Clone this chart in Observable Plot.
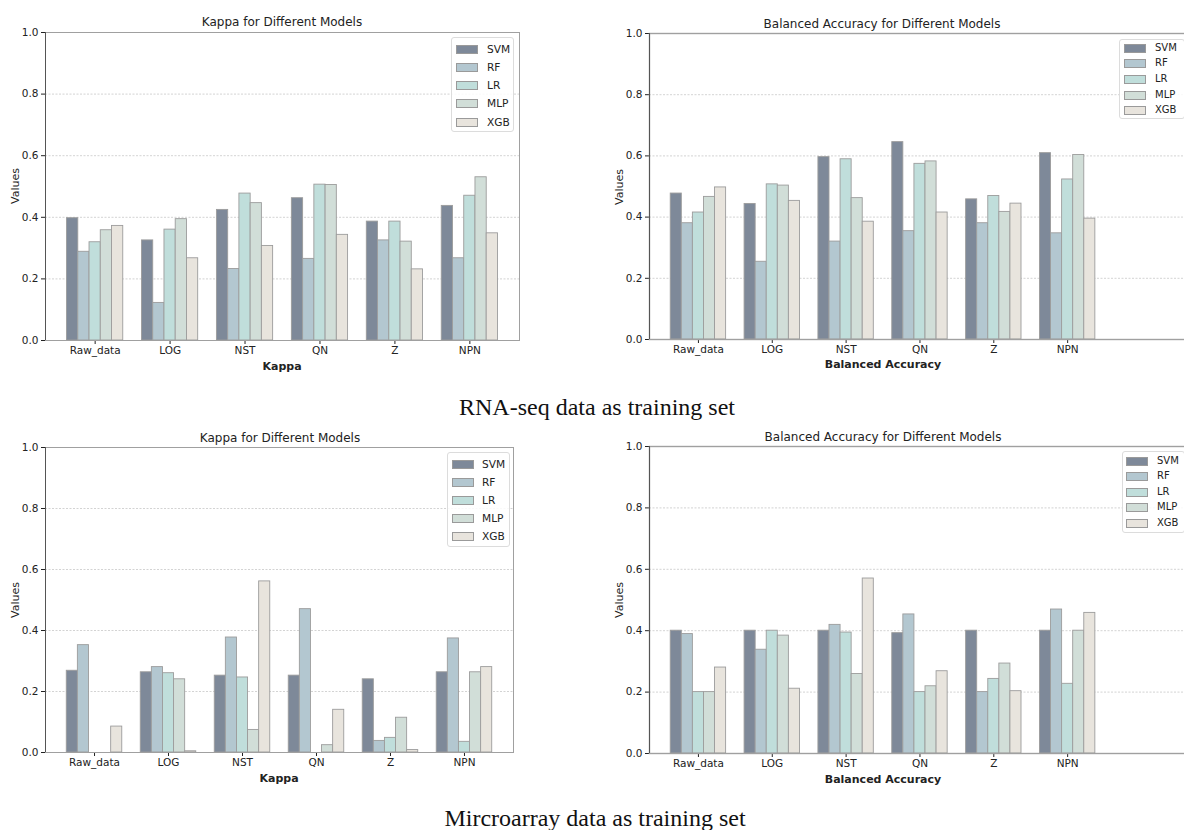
<!DOCTYPE html>
<html>
<head>
<meta charset="utf-8">
<script src="https://cdn.jsdelivr.net/npm/d3@7"></script>
<script src="https://cdn.jsdelivr.net/npm/@observablehq/plot@0.6"></script>
<style>
  html, body { margin: 0; padding: 0; background: #fff; }
  #page { position: relative; width: 1184px; height: 830px; overflow: hidden; background: #fff; }
  .panel { position: absolute; }
  .panel svg { max-width: none !important; display: block; }
  .txt { position: absolute; transform: translate(-50%, -50%); white-space: nowrap; font-family: "DejaVu Sans", sans-serif; color: #222; }
  .legend { position: absolute; border: 1px solid #dcdcdc; border-radius: 3px; background: rgba(255,255,255,0.85); font-family: "DejaVu Sans", sans-serif; color: #222; box-sizing: border-box; }
  .legend .row { position: absolute; display: flex; align-items: center; }
  .legend .sw { box-sizing: border-box; border: 1px solid #9a9a9a; }
  .caption { position: absolute; transform: translate(-50%, -50%); white-space: nowrap; font-family: "Liberation Serif", "Times New Roman", serif; color: #111; }
</style>
</head>
<body>
<div id="page"></div>
<script>
const categories = ["Raw_data", "LOG", "NST", "QN", "Z", "NPN"];
const models = ["SVM", "RF", "LR", "MLP", "XGB"];
const modelColors = ["#7e8999", "#b3c7d0", "#c0dedb", "#d1ded8", "#e8e4dd"];
const yTicks = [0, 0.2, 0.4, 0.6, 0.8, 1.0];
const gridValues = [0.2, 0.4, 0.6, 0.8];

// values per category: [SVM, RF, LR, MLP, XGB]
const rnaKappa = [
  [0.397, 0.288, 0.319, 0.358, 0.372],
  [0.325, 0.122, 0.360, 0.394, 0.267],
  [0.424, 0.232, 0.477, 0.446, 0.307],
  [0.462, 0.265, 0.506, 0.505, 0.343],
  [0.386, 0.325, 0.386, 0.321, 0.231],
  [0.437, 0.267, 0.470, 0.530, 0.348]
];
const rnaBalancedAcc = [
  [0.477, 0.380, 0.415, 0.466, 0.497],
  [0.443, 0.254, 0.507, 0.503, 0.453],
  [0.596, 0.320, 0.589, 0.462, 0.385],
  [0.645, 0.354, 0.574, 0.582, 0.415],
  [0.458, 0.380, 0.469, 0.417, 0.444],
  [0.609, 0.347, 0.523, 0.603, 0.395]
];
const microKappa = [
  [0.268, 0.352, 0.000, 0.000, 0.085],
  [0.263, 0.280, 0.260, 0.240, 0.004],
  [0.252, 0.377, 0.246, 0.074, 0.561],
  [0.252, 0.470, 0.000, 0.024, 0.140],
  [0.240, 0.038, 0.048, 0.114, 0.008],
  [0.263, 0.374, 0.035, 0.263, 0.280]
];
const microBalancedAcc = [
  [0.400, 0.389, 0.200, 0.200, 0.280],
  [0.400, 0.338, 0.400, 0.384, 0.211],
  [0.400, 0.419, 0.394, 0.259, 0.570],
  [0.392, 0.453, 0.200, 0.219, 0.268],
  [0.400, 0.200, 0.243, 0.293, 0.203],
  [0.400, 0.469, 0.227, 0.400, 0.458]
];

const BAR_W = 0.15;
const page = document.getElementById("page");

function addText(cls, text, x, y, style) {
  const d = document.createElement("div");
  d.className = cls;
  d.textContent = text;
  d.style.left = x + "px";
  d.style.top = y + "px";
  Object.assign(d.style, style || {});
  page.appendChild(d);
  return d;
}

function addLegend(box, rowY, swX, txtX, fontSize) {
  const lg = document.createElement("div");
  lg.className = "legend";
  Object.assign(lg.style, {left: box[0] + "px", top: box[1] + "px", width: box[2] + "px", height: box[3] + "px"});
  models.forEach((m, i) => {
    const r = document.createElement("div");
    r.className = "row";
    r.style.left = (swX - box[0]) + "px";
    r.style.top = (rowY[i] - box[1] - 6) + "px";
    r.style.height = "12px";
    const sw = document.createElement("div");
    sw.className = "sw";
    Object.assign(sw.style, {width: "22px", height: "9px", background: modelColors[i]});
    const t = document.createElement("span");
    t.textContent = m;
    Object.assign(t.style, {marginLeft: (txtX - swX - 22) + "px", fontSize: fontSize + "px", lineHeight: "12px"});
    r.appendChild(sw);
    r.appendChild(t);
    lg.appendChild(r);
  });
  page.appendChild(lg);
}

function makePanel(cfg) {
  const rows = [];
  cfg.values.forEach((vals, ci) => {
    vals.forEach((v, mi) => {
      rows.push({cat: categories[ci], ci, model: models[mi], mi, value: v});
    });
  });
  const x1 = d => d.ci - 2.5 * BAR_W + d.mi * BAR_W;
  const x2 = d => d.ci - 2.5 * BAR_W + (d.mi + 1) * BAR_W;
  const chart = Plot.plot({
    width: cfg.width,
    height: cfg.height,
    marginLeft: cfg.ml,
    marginRight: cfg.mr,
    marginTop: cfg.mt,
    marginBottom: cfg.mb,
    style: {fontFamily: "DejaVu Sans, sans-serif", fontSize: "10.5px", color: "#222", background: "transparent", overflow: "visible", maxWidth: "none"},
    x: {domain: cfg.xDomain, ticks: d3.range(categories.length), tickFormat: i => categories[i], tickSize: 4, tickPadding: 2, label: null},
    y: {domain: [0, 1], ticks: yTicks, tickFormat: d3.format(".1f"), tickSize: 4, tickPadding: 3, label: null},
    color: {domain: models, range: modelColors},
    marks: [
      Plot.ruleY(gridValues, {stroke: "#c8c8c8", strokeWidth: 0.8, strokeDasharray: "2,1.5"}),
      Plot.rectY(rows, {x1, x2, y1: 0, y2: "value", fill: "model", stroke: "#9c9c9c", strokeWidth: 0.9, inset: 0}),
      Plot.frame({stroke: "#a0a0a0", strokeWidth: cfg.frameW || 1}),
      Plot.ruleX([cfg.xDomain[0]], {stroke: "#555", strokeWidth: 1}),
      Plot.ruleY([0], {stroke: "#a0a0a0", strokeWidth: 1.2})
    ]
  });
  const holder = document.createElement("div");
  holder.className = "panel";
  holder.style.left = cfg.left + "px";
  holder.style.top = cfg.top + "px";
  holder.style.width = cfg.width + "px";
  holder.style.height = cfg.height + "px";
  holder.appendChild(chart);
  page.appendChild(holder);

  addText("txt", cfg.title, cfg.titleX, cfg.titleY, {fontSize: "12px"});
  addText("txt", cfg.xlabel, cfg.xlabX, cfg.xlabY, {fontSize: "11px", fontWeight: "bold"});
  addText("txt", "Values", cfg.ylabX, cfg.ylabY, {fontSize: "11px", transform: "translate(-50%, -50%) rotate(-90deg)"});
  addLegend(cfg.legBox, cfg.legRows, cfg.legSwX, cfg.legTxtX, cfg.legFont);
}

const leftDomain = [-0.6625, 5.6625];
const rightDomain = [-0.6625, 7.3];

makePanel({
  values: rnaKappa, left: 0, top: 0, width: 530, height: 380, ml: 45, mr: 11, mt: 32, mb: 40,
  xDomain: leftDomain,
  title: "Kappa for Different Models", titleX: 282, titleY: 22,
  xlabel: "Kappa", xlabX: 282, xlabY: 366, ylabX: 15, ylabY: 186,
  legBox: [451, 37, 63, 95], legRows: [48, 66, 84, 102, 121], legSwX: 455, legTxtX: 486, legFont: 10.6
});
makePanel({
  values: rnaBalancedAcc, left: 590, top: 0, width: 650, height: 379, ml: 59, mr: 3, mt: 33, mb: 40,
  xDomain: rightDomain, frameW: 1.4,
  title: "Balanced Accuracy for Different Models", titleX: 882, titleY: 24,
  xlabel: "Balanced Accuracy", xlabX: 883, xlabY: 364, ylabX: 619, ylabY: 187,
  legBox: [1119, 39, 66, 80], legRows: [47, 62, 78, 94, 109], legSwX: 1123, legTxtX: 1154, legFont: 10
});
makePanel({
  values: microKappa, left: 0, top: 415, width: 530, height: 377, ml: 45, mr: 17, mt: 32, mb: 40,
  xDomain: leftDomain,
  title: "Kappa for Different Models", titleX: 280, titleY: 438,
  xlabel: "Kappa", xlabX: 279, xlabY: 778, ylabX: 15, ylabY: 600,
  legBox: [447, 452, 63, 95], legRows: [463, 481, 499, 517, 535], legSwX: 451, legTxtX: 481, legFont: 10.6
});
makePanel({
  values: microBalancedAcc, left: 590, top: 413, width: 650, height: 380, ml: 59, mr: 3, mt: 33, mb: 40,
  xDomain: rightDomain, frameW: 1.4,
  title: "Balanced Accuracy for Different Models", titleX: 883, titleY: 437,
  xlabel: "Balanced Accuracy", xlabX: 883, xlabY: 779, ylabX: 619, ylabY: 600,
  legBox: [1122, 451, 63, 82], legRows: [460, 475, 491, 506, 522], legSwX: 1125, legTxtX: 1156, legFont: 10
});

addText("caption", "RNA-seq data as training set", 597, 407, {fontSize: "24px"});
addText("caption", "Mircroarray data as training set", 595, 818, {fontSize: "24px"});
</script>
</body>
</html>
